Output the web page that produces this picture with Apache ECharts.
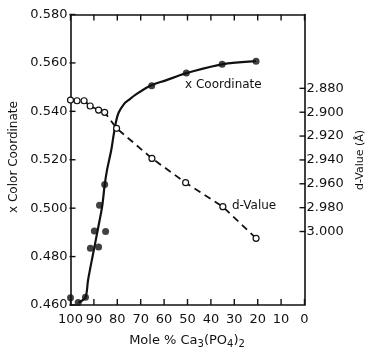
<!DOCTYPE html>
<html><head><meta charset="utf-8">
<script src="https://cdn.jsdelivr.net/npm/echarts@6/dist/echarts.min.js"></script>
<style>html,body{margin:0;padding:0;background:#fff}#c{width:368px;height:353px}</style>
</head><body><div id="c"></div>
<script>
// x Color Coordinate (filled dots): [mole % Ca3(PO4)2, x]
const xCoordPoints = [
  [100, 0.4630], [96.7, 0.4610], [93.6, 0.4632], [91.5, 0.4834], [89.8, 0.4906],
  [88.0, 0.4840], [87.6, 0.5012], [85.0, 0.4904], [85.4, 0.5098],
  [65.3, 0.5506], [50.5, 0.5558], [35.2, 0.5594], [20.7, 0.5607]
];
// fitted solid curve for x coordinate
const xCoordCurve = [
  [96.6, 0.4609], [93.6, 0.4632], [92.5, 0.4703], [90.3, 0.4814], [88.2, 0.4918],
  [86.5, 0.5005], [85.4, 0.5095], [84.4, 0.5157], [82.6, 0.5239], [81.6, 0.5300],
  [80.6, 0.5355], [79.4, 0.5395], [77.0, 0.5432], [75.4, 0.5445], [72.0, 0.5470],
  [65.7, 0.5507], [59.3, 0.5528], [53.6, 0.5548], [50.5, 0.5558], [35.3, 0.5594], [20.7, 0.5607]
];
// d-Value (open circles), Angstrom
const dValuePoints = [
  [100, 2.8898], [97.2, 2.8904], [94.2, 2.8904], [91.6, 2.8948], [88.0, 2.8982],
  [85.4, 2.9001], [80.3, 2.9135], [65.2, 2.9387], [50.8, 2.9591], [34.9, 2.9792], [20.7, 3.0057]
];
const xTicks = [100, 90, 80, 70, 60, 50, 40, 30, 20, 10, 0];
const leftTicks = [0.46, 0.48, 0.50, 0.52, 0.54, 0.56, 0.58];
const dTicks = [2.88, 2.90, 2.92, 2.94, 2.96, 2.98, 3.00];

const FONT = 'DejaVu Sans';
const X_MIN = 0, X_MAX = 100, Y_MIN = 0.46, Y_MAX = 0.58;
const chart = echarts.init(document.getElementById('c'), null, {renderer: 'canvas'});
function axisLine() { return {show: true, onZero: false, lineStyle: {color: '#111', width: 1.6}}; }
const tickStyle = {stroke: '#111', lineWidth: 1.4};

// tick marks drawn through the axes' own scales
function tickSeries(data, yAxisIndex, fn) {
  return {type: 'custom', xAxisIndex: 0, yAxisIndex: yAxisIndex, clip: false, silent: true, z: 6,
    data: data.map(v => [v]), renderItem: (params, api) => fn(api.value(0), api)};
}
chart.setOption({
  backgroundColor: '#fff',
  animation: false,
  grid: [
    {left: 70.5, right: 63.5, top: 14.5, bottom: 48},
    // helper grid spanning the labelled d-value range (2.880 .. 3.000)
    {left: 70.5, right: 63.5, top: 88.3, bottom: 121.5}
  ],
  xAxis: [
    {type: 'value', gridIndex: 0, position: 'bottom', inverse: true, min: X_MIN, max: X_MAX, interval: 10,
     axisLine: axisLine(), axisTick: {show: false}, splitLine: {show: false},
     axisLabel: {margin: 8, color: '#111', fontFamily: FONT, fontSize: 13}},
    {type: 'value', gridIndex: 0, position: 'top', inverse: true, min: X_MIN, max: X_MAX, interval: 10,
     axisLine: axisLine(), axisTick: {show: false}, splitLine: {show: false}, axisLabel: {show: false}},
    {type: 'value', gridIndex: 1, show: false, min: 0, max: 100,
     axisLine: {show: false, onZero: false}}
  ],
  yAxis: [
    {type: 'value', gridIndex: 0, position: 'left', min: Y_MIN, max: Y_MAX, interval: 0.02,
     axisLine: axisLine(), axisTick: {show: false}, splitLine: {show: false},
     axisLabel: {margin: 3, color: '#111', fontFamily: FONT, fontSize: 13,
       formatter: v => v.toFixed(3)}},
    {type: 'value', gridIndex: 0, position: 'right', inverse: true, min: 2.8181, max: 3.0616,
     axisLine: axisLine(), splitLine: {show: false}, axisTick: {show: false}, axisLabel: {show: false}},
    {type: 'value', gridIndex: 1, position: 'right', inverse: true, min: 2.88, max: 3.00, interval: 0.02,
     axisLine: {show: false, onZero: false}, splitLine: {show: false}, axisTick: {show: false},
     axisLabel: {margin: 2, color: '#111', fontFamily: FONT, fontSize: 13,
       showMinLabel: true, showMaxLabel: true, formatter: v => Number(v).toFixed(3)}}
  ],
  series: [
    {type: 'line', name: 'curve', xAxisIndex: 0, yAxisIndex: 0, data: xCoordCurve,
     smooth: 0.3, showSymbol: false, symbol: 'none',
     lineStyle: {color: '#111', width: 2.2}, z: 3},
    {type: 'scatter', name: 'x Coordinate', xAxisIndex: 0, yAxisIndex: 0, data: xCoordPoints,
     symbol: 'circle', symbolSize: 7, itemStyle: {color: '#111'}, z: 5},
    {type: 'line', name: 'd-Value', xAxisIndex: 0, yAxisIndex: 1, data: dValuePoints,
     symbol: 'circle', symbolSize: 6, showAllSymbol: true,
     itemStyle: {color: '#fff', borderColor: '#111', borderWidth: 1.2},
     lineStyle: {color: '#111', width: 1.8, type: [7, 5]}, z: 4},
    // bottom & top ticks (inside)
    tickSeries(xTicks, 0, (v, api) => {
      const b = api.coord([v, Y_MIN]), t = api.coord([v, Y_MAX]);
      return {type: 'group', children: [
        {type: 'line', shape: {x1: b[0], y1: b[1], x2: b[0], y2: b[1] - 6}, style: tickStyle},
        {type: 'line', shape: {x1: t[0], y1: t[1], x2: t[0], y2: t[1] + 6}, style: tickStyle}]};
    }),
    // left ticks (inside, slightly crossing)
    tickSeries(leftTicks, 0, (v, api) => {
      const p = api.coord([X_MAX, v]);
      return {type: 'line', shape: {x1: p[0] - 1, y1: p[1], x2: p[0] + 5, y2: p[1]}, style: tickStyle};
    }),
    // right ticks for d-value
    tickSeries(dTicks, 1, (v, api) => {
      const p = api.coord([X_MIN, v]);
      return {type: 'line', shape: {x1: p[0] + 1, y1: p[1], x2: p[0] - 5, y2: p[1]}, style: tickStyle};
    })
  ],
  graphic: [
    {type: 'text', left: 185, top: 79, style: {text: 'x Coordinate', fill: '#111', font: '12px "DejaVu Sans"'}},
    {type: 'text', left: 232, top: 200, style: {text: 'd-Value', fill: '#111', font: '12px "DejaVu Sans"'}},
    {type: 'text', x: 14, y: 157, rotation: Math.PI / 2,
     style: {text: 'x Color Coordinate', fill: '#111', font: '12px "DejaVu Sans"', align: 'center', verticalAlign: 'middle'}},
    {type: 'text', x: 360, y: 160, rotation: Math.PI / 2,
     style: {text: 'd-Value (Å)', fill: '#111', font: '11px "DejaVu Sans"', align: 'center', verticalAlign: 'middle'}},
    {type: 'text', x: 187, y: 341,
     style: {text: '{n|Mole % Ca}{s|3}{n|(PO}{s|4}{n|)}{s|2}', align: 'center', verticalAlign: 'middle',
       rich: {n: {fontFamily: FONT, fontSize: 13, fill: '#111', color: '#111'},
              s: {fontFamily: FONT, fontSize: 10, fill: '#111', color: '#111', padding: [7, 0, 0, 0]}}}}
  ]
});
</script></body></html>
